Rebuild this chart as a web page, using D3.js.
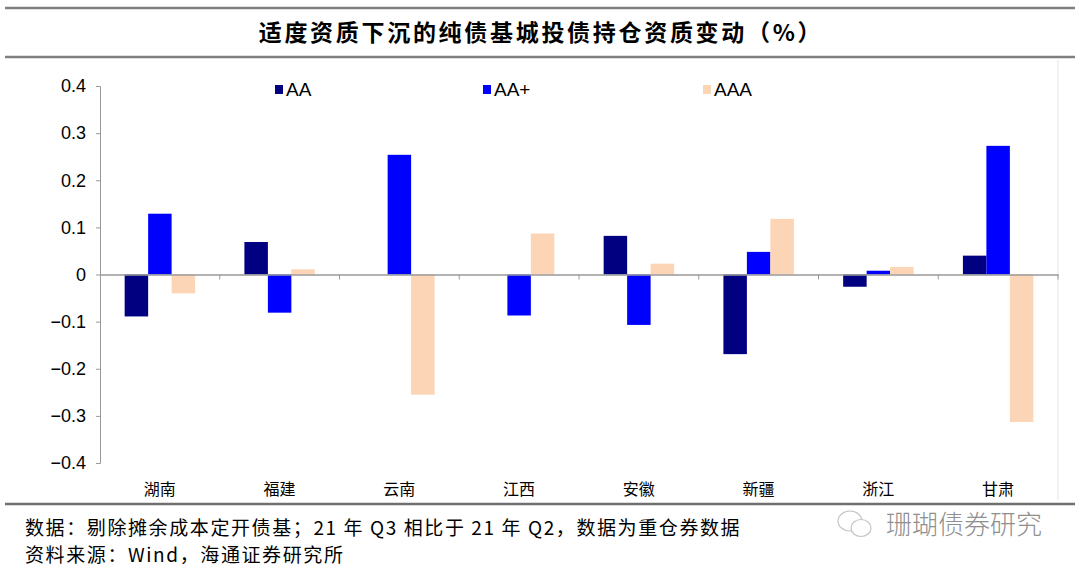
<!DOCTYPE html>
<html><head><meta charset="utf-8">
<script src="https://cdn.jsdelivr.net/npm/d3@7"></script>
<style>body{margin:0;background:#fff;}svg{display:block;}</style>
</head><body>
<svg id="c" width="1080" height="576"></svg>
<script>
const categories = ["湖南","福建","云南","江西","安徽","新疆","浙江","甘肃"];
const series = ["AA","AA+","AAA"];
const valuesAA    = [-0.089, 0.069, 0, 0, 0.082, -0.169, -0.026, 0.040];
const valuesAAp   = [0.129, -0.081, 0.254, -0.087, -0.107, 0.048, 0.008, 0.273];
const valuesAAA   = [-0.040, 0.011, -0.255, 0.087, 0.023, 0.118, 0.016, -0.313];
const yTicks = [0.4,0.3,0.2,0.1,0,-0.1,-0.2,-0.3,-0.4];
const colors = ["#000080","#0000FF","#FBD5B5"];
const title = "适度资质下沉的纯债基城投债持仓资质变动（%）";
const note1 = "数据：剔除摊余成本定开债基；21 年 Q3 相比于 21 年 Q2，数据为重仓券数据";
const note2 = "资料来源：Wind，海通证券研究所";
const watermark = "珊瑚债券研究";

const seriesVals = [valuesAA, valuesAAp, valuesAAA];
const svg = d3.select("#c");
const cjk = "'Noto Sans CJK SC', sans-serif";
const lat = "'Liberation Sans', Arial, sans-serif";

// title frame
svg.append("line").attr("x1",5).attr("x2",1075).attr("y1",8).attr("y2",8).attr("stroke","#7f7f7f").attr("stroke-width",2.5);
svg.append("line").attr("x1",5).attr("x2",1075).attr("y1",57).attr("y2",57).attr("stroke","#7f7f7f").attr("stroke-width",2.5);
svg.append("text").attr("x",541).attr("y",41).attr("text-anchor","middle")
  .attr("font-family",cjk).attr("font-weight","bold").attr("font-size",23).attr("letter-spacing",2.7)
  .attr("fill","#000").text(title);

// right border
svg.append("line").attr("x1",1058).attr("x2",1058).attr("y1",60).attr("y2",500).attr("stroke","#e4e4e4").attr("stroke-width",1);

const x0 = d3.scaleBand().domain(categories).range([100,1058]).paddingInner(0).paddingOuter(0);
const x1 = d3.scaleBand().domain(series).range([0,x0.bandwidth()]).paddingInner(0).paddingOuter(1.05);
const y = d3.scaleLinear().domain([-0.4,0.4]).range([463,86]);

// y axis
const yAxis = d3.axisLeft(y).tickValues(yTicks).tickSize(4).tickFormat(d => d===0 ? "0" : d3.format(".1f")(d));
const ga = svg.append("g").attr("transform","translate(100,0)").call(yAxis);
ga.select(".domain").attr("stroke","#999");
ga.selectAll(".tick line").attr("stroke","#999");
ga.selectAll(".tick text").attr("font-family",lat).attr("font-size",18).attr("fill","#000").attr("x",-14);

// bars
const data = [];
categories.forEach((c,i)=>series.forEach((s,j)=>data.push({c,s,v:seriesVals[j][i],j})));
svg.append("g").selectAll("rect").data(data.filter(d=>d.v!==0)).join("rect")
  .attr("x",d=>x0(d.c)+x1(d.s))
  .attr("width",x1.bandwidth())
  .attr("y",d=>y(Math.max(0,d.v)))
  .attr("height",d=>Math.abs(y(d.v)-y(0)))
  .attr("fill",d=>colors[d.j]);

// zero axis with category ticks
const xAxis = d3.axisBottom(x0).tickSize(0).tickFormat("");
const gx = svg.append("g").attr("transform",`translate(0,${y(0)})`).call(xAxis);
gx.select(".domain").attr("stroke","#999").attr("stroke-width",1.5);
const bounds = categories.map(c=>x0(c)).slice(1).concat([x0.range()[1]]);
gx.selectAll(".bt").data(bounds).join("line").attr("class","bt")
  .attr("x1",d=>d).attr("x2",d=>d).attr("y1",0).attr("y2",5).attr("stroke","#999");

// category labels
svg.append("g").selectAll("text").data(categories).join("text")
  .attr("x",d=>x0(d)+x0.bandwidth()/2).attr("y",495).attr("text-anchor","middle")
  .attr("font-family",cjk).attr("font-size",16).attr("fill","#000").text(d=>d);

// legend
const legX = [275,483,703];
const lg = svg.append("g").selectAll("g").data(series).join("g")
  .attr("transform",(d,i)=>`translate(${legX[i]},0)`);
lg.append("rect").attr("x",0).attr("y",85).attr("width",8).attr("height",9).attr("fill",(d,i)=>colors[i]);
lg.append("text").attr("x",11).attr("y",96).attr("font-family",lat).attr("font-size",19).attr("fill","#000").text(d=>d);

// bottom rule
svg.append("line").attr("x1",5).attr("x2",1075).attr("y1",504).attr("y2",504).attr("stroke","#6f6f6f").attr("stroke-width",2.5);

// notes
svg.append("text").attr("x",25).attr("y",535).attr("font-family",cjk).attr("font-size",19).attr("letter-spacing",1.6).attr("fill","#000").text(note1);
svg.append("text").attr("x",25).attr("y",562).attr("font-family",cjk).attr("font-size",19).attr("letter-spacing",1.6).attr("fill","#000").text(note2);

// watermark
const wm = svg.append("g").attr("transform","translate(838,524)");
wm.append("ellipse").attr("cx",12).attr("cy",-3).attr("rx",12).attr("ry",10).attr("fill","none").attr("stroke","#c4c4c4").attr("stroke-width",1.2);
wm.append("ellipse").attr("cx",23).attr("cy",4).attr("rx",10).attr("ry",8.5).attr("fill","#fff").attr("stroke","#c4c4c4").attr("stroke-width",1.2);
wm.append("text").attr("x",48).attr("y",10).attr("font-family",cjk).attr("font-size",26).attr("fill","#8f8f8f").attr("font-weight",300).text(watermark);
</script>
</body></html>
